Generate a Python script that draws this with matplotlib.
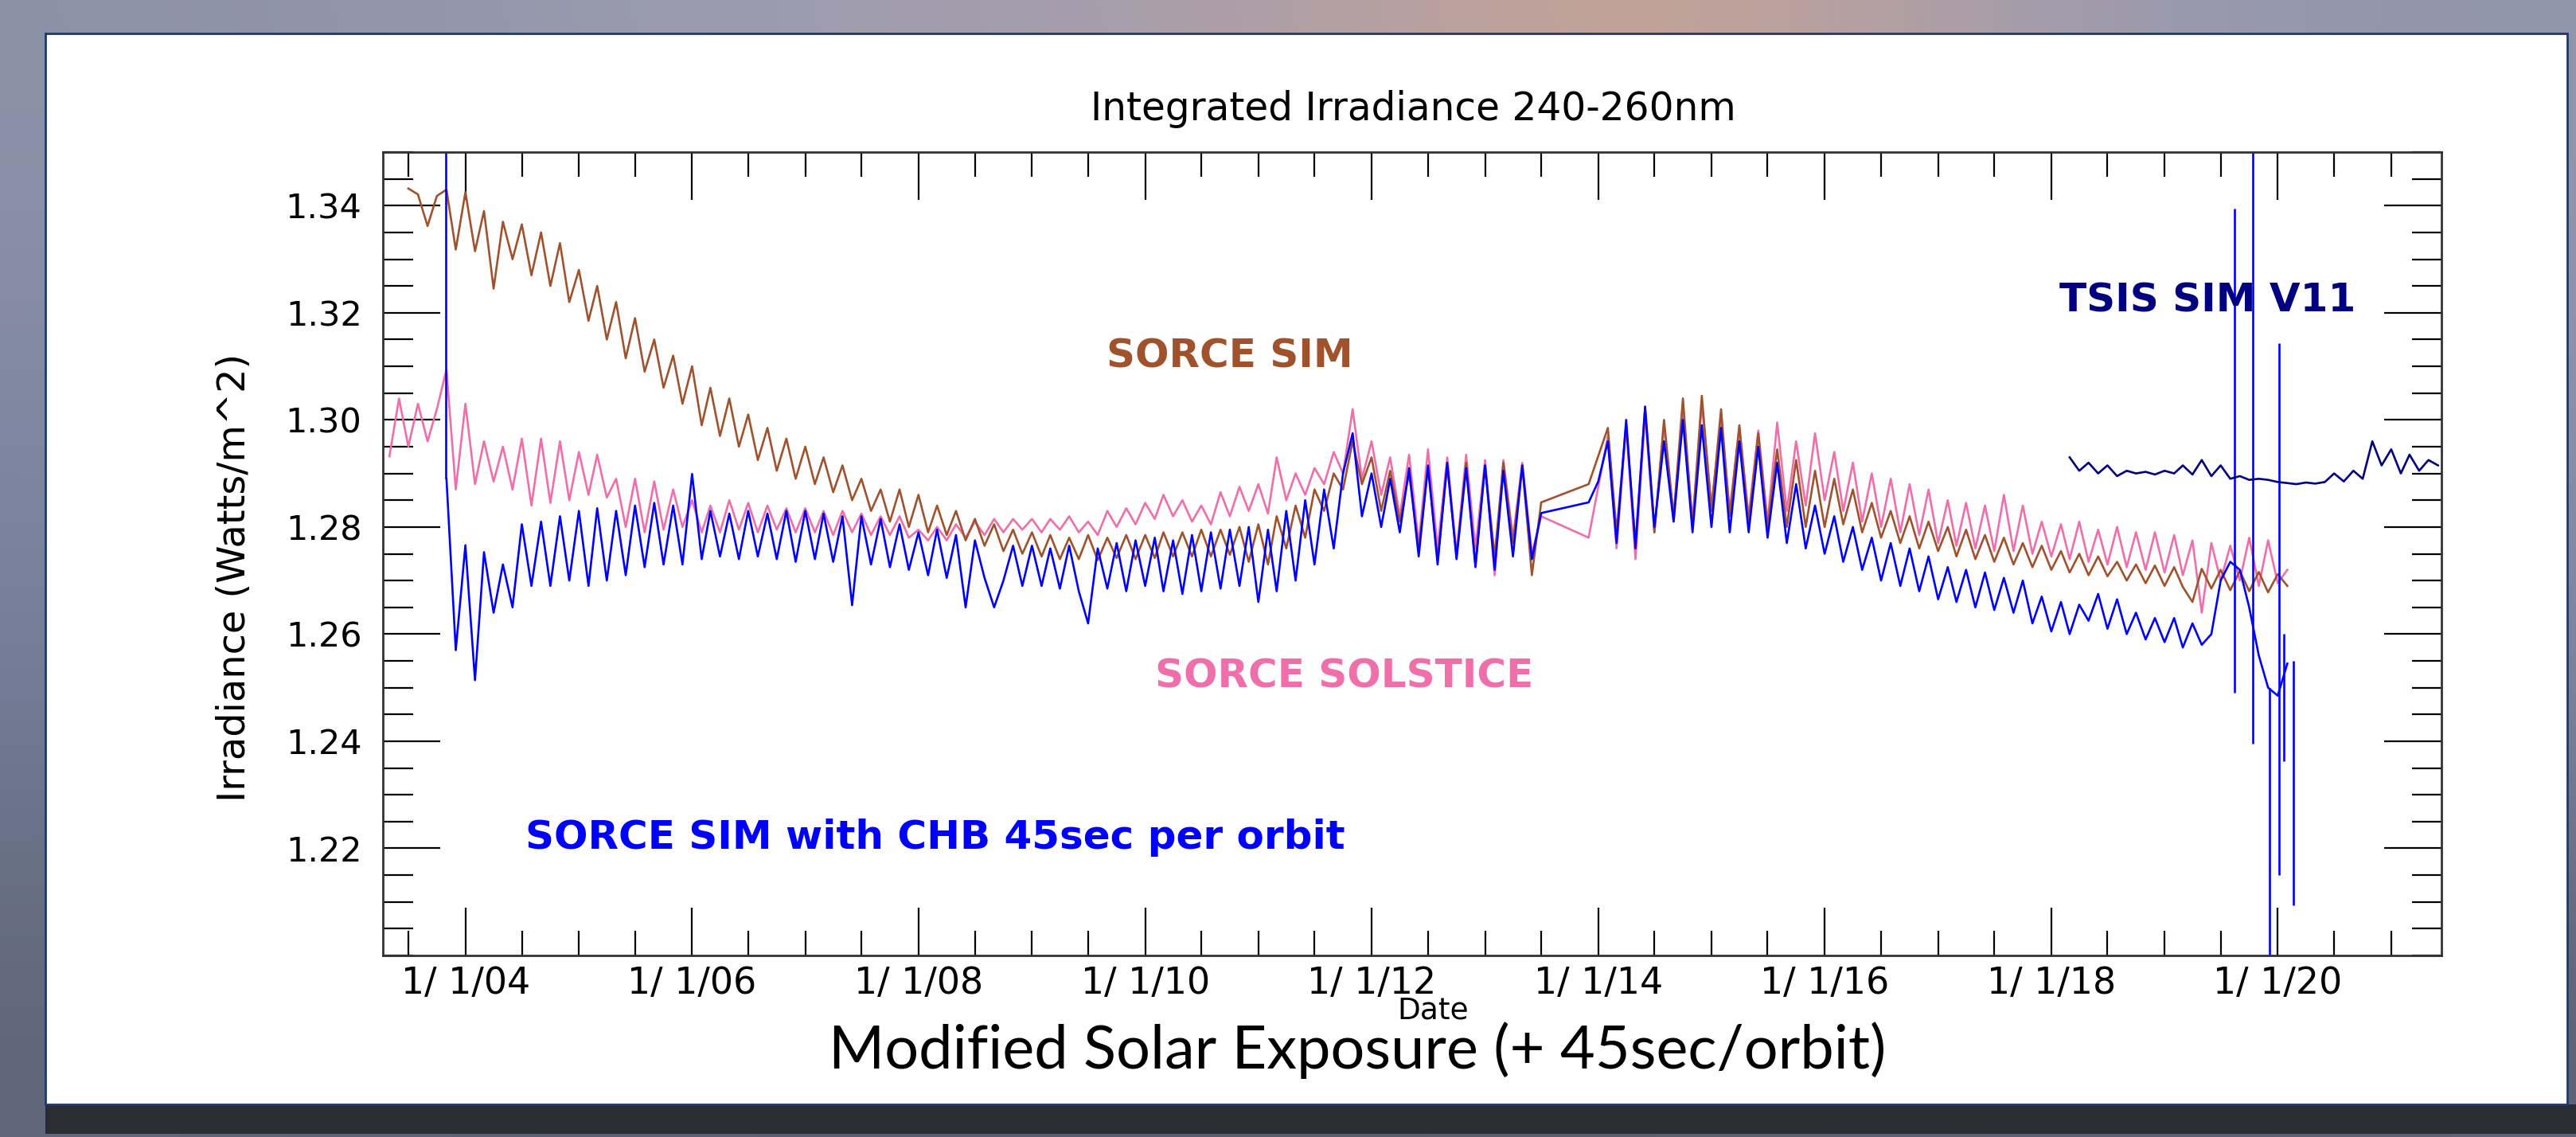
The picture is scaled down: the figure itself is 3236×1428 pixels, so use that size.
import numpy as np
import pandas as pd
import matplotlib
matplotlib.use("Agg")
import matplotlib.pyplot as plt
import matplotlib.dates as mdates
from matplotlib.colors import to_rgb
from matplotlib.patches import Rectangle
from matplotlib.ticker import FixedLocator, MultipleLocator, FuncFormatter

nan = np.nan

# monthly samples (alternating rotational highs / lows)
sim_start = "2003-07-01"
sim_values = [
    1.3432, 1.3421, 1.3362, 1.3418, 1.3430, 1.3318,
    1.3425, 1.3315, 1.3390, 1.3245, 1.3370, 1.3300, 1.3365, 1.3270, 1.3350, 1.3250, 1.3330, 1.3220,
    1.3280, 1.3185, 1.3250, 1.3150, 1.3220, 1.3115, 1.3190, 1.3090, 1.3150, 1.3060, 1.3120, 1.3030,
    1.3100, 1.2990, 1.3060, 1.2970, 1.3040, 1.2950, 1.3010, 1.2925, 1.2985, 1.2905, 1.2965, 1.2890,
    1.2950, 1.2880, 1.2930, 1.2865, 1.2915, 1.2850, 1.2890, 1.2830, 1.2870, 1.2810, 1.2870, 1.2800,
    1.2860, 1.2790, 1.2840, 1.2785, 1.2830, 1.2775, 1.2815, 1.2765, 1.2805, 1.2755, 1.2795, 1.2750,
    1.2790, 1.2745, 1.2785, 1.2740, 1.2780, 1.2740, 1.2785, 1.2738, 1.2780, 1.2742, 1.2785, 1.2740,
    1.2785, 1.2742, 1.2790, 1.2745, 1.2790, 1.2745, 1.2795, 1.2745, 1.2795, 1.2748, 1.2800, 1.2735,
    1.2805, 1.2730, 1.2820, 1.2760, 1.2840, 1.2780, 1.2870, 1.2830, 1.2900, 1.2870, 1.2960, 1.2880,
    1.2930, 1.2830, 1.2905, 1.2810, 1.2900, 1.2760, 1.2910, 1.2740, 1.2915, 1.2745, 1.2920, 1.2730,
    1.2915, 1.2745, 1.2920, 1.2770, 1.2915, 1.2710, 1.2846, nan, nan, nan, nan, 1.2880,
    nan, 1.2985, 1.2790, 1.2990, 1.2770, 1.3020, 1.2790, 1.3000, 1.2820, 1.3040, 1.2800, 1.3045,
    1.2830, 1.3020, 1.2820, 1.2990, 1.2810, 1.2975, 1.2800, 1.2945, 1.2800, 1.2925, 1.2800, 1.2905,
    1.2800, 1.2890, 1.2805, 1.2870, 1.2790, 1.2845, 1.2780, 1.2830, 1.2770, 1.2820, 1.2760, 1.2810,
    1.2755, 1.2800, 1.2745, 1.2795, 1.2740, 1.2785, 1.2735, 1.2780, 1.2730, 1.2770, 1.2725, 1.2765,
    1.2720, 1.2755, 1.2715, 1.2750, 1.2710, 1.2745, 1.2708, 1.2735, 1.2700, 1.2730, 1.2695, 1.2728,
    1.2690, 1.2725, 1.2688, 1.2660, 1.2722, 1.2685, 1.2720, 1.2682, 1.2718, 1.2680, 1.2716, 1.2678,
    1.2712, 1.2690,
]

solstice_start = "2003-05-01"
solstice_values = [
    1.2932, 1.3040, 1.2950, 1.3030, 1.2960, 1.3020, 1.3094, 1.2870,
    1.3030, 1.2880, 1.2960, 1.2885, 1.2950, 1.2870, 1.2965, 1.2840, 1.2965, 1.2845, 1.2960, 1.2850,
    1.2940, 1.2860, 1.2935, 1.2855, 1.2890, 1.2800, 1.2890, 1.2790, 1.2885, 1.2795, 1.2870, 1.2800,
    1.2850, 1.2790, 1.2840, 1.2790, 1.2850, 1.2795, 1.2845, 1.2790, 1.2840, 1.2795, 1.2835, 1.2790,
    1.2835, 1.2790, 1.2830, 1.2785, 1.2830, 1.2790, 1.2825, 1.2785, 1.2820, 1.2785, 1.2820, 1.2780,
    1.2795, 1.2775, 1.2800, 1.2775, 1.2805, 1.2780, 1.2810, 1.2785, 1.2815, 1.2790, 1.2815, 1.2795,
    1.2815, 1.2790, 1.2815, 1.2795, 1.2820, 1.2790, 1.2810, 1.2785, 1.2830, 1.2800, 1.2835, 1.2805,
    1.2845, 1.2815, 1.2860, 1.2820, 1.2850, 1.2810, 1.2840, 1.2805, 1.2865, 1.2820, 1.2875, 1.2830,
    1.2880, 1.2825, 1.2930, 1.2850, 1.2900, 1.2860, 1.2910, 1.2880, 1.2940, 1.2900, 1.3020, 1.2890,
    1.2960, 1.2860, 1.2930, 1.2820, 1.2935, 1.2770, 1.2945, 1.2760, 1.2930, 1.2750, 1.2935, 1.2760,
    1.2925, 1.2710, 1.2925, 1.2780, 1.2920, 1.2750, 1.2820, nan, nan, nan, nan, 1.2780,
    nan, 1.2970, 1.2760, 1.2990, 1.2740, 1.3010, 1.2790, 1.2990, 1.2810, 1.3020, 1.2810, 1.3030,
    1.2840, 1.3000, 1.2830, 1.2985, 1.2820, 1.2980, 1.2810, 1.2995, 1.2830, 1.2960, 1.2840, 1.2975,
    1.2850, 1.2940, 1.2830, 1.2920, 1.2810, 1.2900, 1.2800, 1.2890, 1.2790, 1.2880, 1.2785, 1.2870,
    1.2770, 1.2850, 1.2765, 1.2845, 1.2760, 1.2840, 1.2755, 1.2860, 1.2755, 1.2840, 1.2750, 1.2810,
    1.2745, 1.2805, 1.2740, 1.2810, 1.2735, 1.2795, 1.2730, 1.2800, 1.2725, 1.2790, 1.2720, 1.2790,
    1.2715, 1.2785, 1.2710, 1.2775, 1.2640, 1.2770, 1.2700, 1.2765, 1.2700, 1.2780, 1.2690, 1.2775,
    1.2695, 1.2720,
]

chb_start = "2003-11-01"
chb_values = [
    1.2890, 1.2570,
    1.2766, 1.2514, 1.2753, 1.2640, 1.2730, 1.2650, 1.2805, 1.2690, 1.2810, 1.2690, 1.2820, 1.2700,
    1.2830, 1.2690, 1.2835, 1.2700, 1.2830, 1.2710, 1.2840, 1.2725, 1.2845, 1.2730, 1.2840, 1.2730,
    1.2899, 1.2740, 1.2830, 1.2745, 1.2825, 1.2740, 1.2830, 1.2745, 1.2825, 1.2740, 1.2830, 1.2735,
    1.2830, 1.2740, 1.2825, 1.2735, 1.2820, 1.2654, 1.2820, 1.2730, 1.2815, 1.2725, 1.2805, 1.2720,
    1.2790, 1.2710, 1.2795, 1.2705, 1.2785, 1.2650, 1.2775, 1.2705, 1.2650, 1.2700, 1.2765, 1.2690,
    1.2765, 1.2690, 1.2760, 1.2685, 1.2765, 1.2680, 1.2620, 1.2760, 1.2685, 1.2770, 1.2680, 1.2775,
    1.2690, 1.2780, 1.2680, 1.2775, 1.2675, 1.2785, 1.2680, 1.2790, 1.2685, 1.2795, 1.2690, 1.2800,
    1.2660, 1.2795, 1.2680, 1.2830, 1.2700, 1.2850, 1.2730, 1.2870, 1.2760, 1.2900, 1.2975, 1.2820,
    1.2900, 1.2800, 1.2890, 1.2790, 1.2910, 1.2745, 1.2915, 1.2730, 1.2920, 1.2740, 1.2910, 1.2725,
    1.2915, 1.2720, 1.2905, 1.2745, 1.2915, 1.2740, 1.2826, nan, nan, nan, nan, 1.2846,
    1.2885, 1.2960, 1.2770, 1.3000, 1.2760, 1.3025, 1.2800, 1.2960, 1.2810, 1.3000, 1.2790, 1.2990,
    1.2800, 1.2985, 1.2790, 1.2960, 1.2790, 1.2950, 1.2780, 1.2920, 1.2770, 1.2880, 1.2760, 1.2840,
    1.2750, 1.2820, 1.2735, 1.2800, 1.2720, 1.2780, 1.2700, 1.2770, 1.2690, 1.2760, 1.2680, 1.2745,
    1.2665, 1.2725, 1.2660, 1.2720, 1.2650, 1.2715, 1.2645, 1.2705, 1.2640, 1.2700, 1.2620, 1.2670,
    1.2605, 1.2660, 1.2600, 1.2655, 1.2625, 1.2675, 1.2610, 1.2665, 1.2600, 1.2640, 1.2590, 1.2630,
    1.2585, 1.2630, 1.2575, 1.2620, 1.2580, 1.2600, 1.2700, 1.2735, 1.2720, 1.2650, 1.2560, 1.2500,
    1.2485, 1.2545,
]

# single-day glitches in the CHB series: date, low end, high end
chb_spike_dates = ["2003-10-31", "2019-08-15", "2019-10-12", "2019-12-05",
                   "2020-01-05", "2020-01-20", "2020-02-20"]
chb_spike_low = [1.2890, 1.2490, 1.2396, 1.1900, 1.2150, 1.2363, 1.2093]
chb_spike_high = [1.3600, 1.3394, 1.3600, 1.2500, 1.3143, 1.2600, 1.2550]

tsis_start = "2018-03-01"
tsis_values = [
    1.2930, 1.2905, 1.2920, 1.2900, 1.2915, 1.2895, 1.2905, 1.2900, 1.2903, 1.2898,
    1.2905, 1.2900, 1.2915, 1.2898, 1.2925, 1.2895, 1.2915, 1.2890, 1.2895, 1.2888, 1.2890, 1.2888,
    1.2884, 1.2882, 1.2880, 1.2883, 1.2881, 1.2884, 1.2900, 1.2885, 1.2905, 1.2890, 1.2960, 1.2915,
    1.2945, 1.2900, 1.2935, 1.2905, 1.2925, 1.2915,
]

y_ticks = [1.22, 1.24, 1.26, 1.28, 1.30, 1.32, 1.34]

c_sim = "#a0522d"
c_sol = "#f06eaa"
c_chb = "#0000ff"
c_tsis = "#000080"


def monthly(start, values):
    s = pd.Series(values, index=pd.date_range(start, periods=len(values), freq="MS"))
    return s.dropna()


W, H = 3237, 1428


def fx(px):
    return px / W


def fy(py):
    return 1 - py / H


fig = plt.figure(figsize=(W / 100, H / 100), dpi=100)

# blurred photo-like backdrop
bg_hex = [
    ["#8c92a8", "#979aae", "#a29eb0", "#ad9fa9", "#cfa58f", "#a29db0", "#9096ac"],
    ["#7f88a1", "#868da4", "#8d91a6", "#9494a6", "#a39a9f", "#8f93a8", "#8890a8"],
    ["#737c95", "#78809a", "#7c839a", "#80869b", "#858a9d", "#7e859c", "#7a839d"],
    ["#5f6679", "#5a6072", "#585d6d", "#575b6a", "#5a5e6c", "#595e6e", "#5c6273"],
]
bg = fig.add_axes([0, 0, 1, 1], zorder=0)
bg.imshow(np.array([[to_rgb(c) for c in row] for row in bg_hex]),
          aspect="auto", interpolation="bicubic", extent=[0, 1, 0, 1])
bg.axis("off")

# slide panel with its drop shadow
fig.patches.append(Rectangle((fx(57), fy(1424)), fx(3237 - 57), 37 / H,
                             transform=fig.transFigure, facecolor="#2c2d34",
                             edgecolor="none", zorder=1))
fig.patches.append(Rectangle((fx(57), fy(1387)), fx(3225 - 57), (1387 - 42) / H,
                             transform=fig.transFigure, facecolor="white",
                             edgecolor="#1f3a66", lw=2, zorder=1))

ax = fig.add_axes([fx(481), fy(1200), fx(3067 - 481), (1200 - 191) / H], zorder=2)
ax.set_facecolor("none")

lw = 1.9
sol = monthly(solstice_start, solstice_values)
sim = monthly(sim_start, sim_values)
chb = monthly(chb_start, chb_values)
tsis = monthly(tsis_start, tsis_values)
ax.plot(sol.index, sol.values, color=c_sol, lw=lw)
ax.plot(sim.index, sim.values, color=c_sim, lw=lw)
ax.plot(chb.index, chb.values, color=c_chb, lw=lw)
ax.vlines(pd.to_datetime(chb_spike_dates), chb_spike_low, chb_spike_high,
          color=c_chb, lw=lw)
ax.plot(tsis.index, tsis.values, color=c_tsis, lw=lw)

ax.set_xlim(pd.Timestamp("2003-04-10"), pd.Timestamp("2021-06-12"))
ax.set_ylim(1.20, 1.35)

ax.xaxis.set_major_locator(mdates.YearLocator(2))
ax.xaxis.set_minor_locator(mdates.MonthLocator(bymonth=[1, 7]))
ax.xaxis.set_major_formatter(FuncFormatter(
    lambda v, p: "{}/{:>2d}/{:02d}".format(mdates.num2date(v).month,
                                          mdates.num2date(v).day,
                                          mdates.num2date(v).year % 100)))
ax.yaxis.set_major_locator(FixedLocator(y_ticks))
ax.yaxis.set_minor_locator(MultipleLocator(0.005))
ax.yaxis.set_major_formatter(FuncFormatter(lambda v, p: f"{v:.2f}"))

ax.tick_params(which="both", direction="in", top=True, right=True,
               colors="black", width=1.6)
ax.tick_params(axis="x", which="major", length=43, labelsize=33, pad=9)
ax.tick_params(axis="x", which="minor", length=22)
ax.tick_params(axis="y", which="major", length=52, labelsize=31, pad=19)
ax.tick_params(axis="y", which="minor", length=27)
for sp in ax.spines.values():
    sp.set_linewidth(2)
    sp.set_color("#333333")

# texts
fig.text(fx(1775), fy(151), "Integrated Irradiance 240-260nm", fontsize=35,
         ha="center", va="baseline", zorder=3)
fig.text(fx(295), fy(725), "Irradiance (Watts/m^2)", fontsize=34.5,
         rotation=90, ha="center", va="center", zorder=3)
fig.text(fx(1800), fy(1280), "Date", fontsize=27, ha="center", va="baseline", zorder=3)
fig.text(fx(1705), fy(1342), "Modified Solar Exposure (+ 45sec/orbit)",
         family="Lato", fontsize=54.5, ha="center", va="baseline", zorder=4)

bold = dict(fontsize=36, fontweight="bold", va="baseline", zorder=3)
fig.text(fx(1545), fy(461), "SORCE SIM", color=c_sim, ha="center", **bold)
fig.text(fx(1689), fy(864), "SORCE SOLSTICE", color=c_sol, ha="center", **bold)
fig.text(fx(660), fy(1066), "SORCE SIM with CHB 45sec per orbit", color=c_chb,
         ha="left", **bold)
fig.text(fx(2587), fy(391), "TSIS SIM V11", color=c_tsis, ha="left", **bold)

fig.savefig("out.png", dpi=100)
